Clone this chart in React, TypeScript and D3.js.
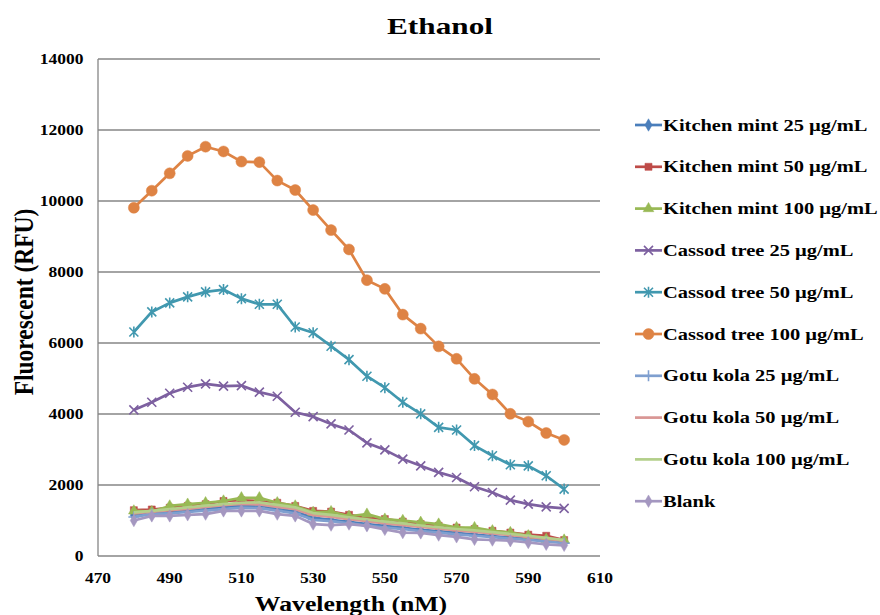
import React from 'react';
import * as d3 from 'd3';

// wavelength (nM)
const wavelengths = [480, 485, 490, 495, 500, 505, 510, 515, 520, 525, 530, 535, 540, 545, 550, 555, 560, 565, 570, 575, 580, 585, 590, 595, 600];

const kitchenMint25 = [1150, 1220, 1250, 1280, 1320, 1380, 1420, 1400, 1330, 1250, 1080, 1020, 960, 900, 850, 800, 740, 700, 650, 600, 560, 520, 480, 430, 380];
const kitchenMint50 = [1290, 1310, 1360, 1410, 1460, 1550, 1570, 1550, 1500, 1410, 1270, 1250, 1160, 1080, 1040, 970, 900, 850, 800, 760, 710, 660, 600, 570, 450];
const kitchenMint100 = [1270, 1250, 1410, 1460, 1500, 1550, 1640, 1640, 1500, 1410, 1230, 1250, 1120, 1180, 1040, 1000, 950, 900, 800, 800, 710, 660, 570, 470, 450];
const cassod25 = [4115, 4330, 4585, 4755, 4850, 4785, 4800, 4615, 4500, 4050, 3925, 3720, 3550, 3185, 2990, 2730, 2540, 2355, 2210, 1950, 1790, 1575, 1460, 1385, 1340];
const cassod50 = [6310, 6875, 7130, 7300, 7440, 7505, 7250, 7090, 7090, 6450, 6290, 5910, 5530, 5065, 4740, 4330, 4005, 3625, 3550, 3110, 2825, 2570, 2540, 2260, 1885];
const cassod100 = [9810, 10290, 10780, 11270, 11530, 11395, 11110, 11095, 10575, 10310, 9745, 9180, 8635, 7770, 7525, 6800, 6405, 5905, 5555, 4990, 4550, 4005, 3785, 3465, 3270];
const gotuKola25 = [1100, 1180, 1200, 1240, 1280, 1320, 1360, 1350, 1280, 1200, 1020, 980, 920, 860, 800, 760, 700, 660, 610, 570, 530, 490, 450, 410, 360];
const gotuKola50 = [1200, 1250, 1290, 1330, 1380, 1430, 1470, 1450, 1380, 1320, 1150, 1100, 1040, 980, 920, 870, 820, 770, 720, 680, 640, 590, 540, 490, 430];
const gotuKola100 = [1230, 1270, 1320, 1370, 1420, 1460, 1500, 1510, 1440, 1370, 1210, 1160, 1090, 1030, 970, 920, 860, 810, 760, 720, 670, 620, 570, 510, 450];
const blank = [1000, 1130, 1130, 1160, 1180, 1270, 1270, 1270, 1180, 1130, 900, 870, 900, 850, 750, 660, 650, 590, 540, 470, 450, 430, 380, 330, 300];

const seriesNames = [
  'Kitchen mint 25 µg/mL', 'Kitchen mint 50 µg/mL', 'Kitchen mint 100 µg/mL',
  'Cassod tree 25 µg/mL', 'Cassod tree 50 µg/mL', 'Cassod tree 100 µg/mL',
  'Gotu kola 25 µg/mL', 'Gotu kola 50 µg/mL', 'Gotu kola 100 µg/mL', 'Blank',
];
const seriesValues = [kitchenMint25, kitchenMint50, kitchenMint100, cassod25, cassod50, cassod100, gotuKola25, gotuKola50, gotuKola100, blank];
const seriesColors = ['#4A7EBB', '#BE4B48', '#98B954', '#7D60A0', '#4198AF', '#DE8344', '#7F9FCF', '#D99694', '#B3CF8A', '#A497C0'];
const seriesMarkers = ['diamond', 'square', 'triangle', 'x', 'star', 'circle', 'plus', 'none', 'none', 'diamond'];

const xTicks = [470, 490, 510, 530, 550, 570, 590, 610];
const yTicks = [0, 2000, 4000, 6000, 8000, 10000, 12000, 14000];

const W = 880;
const H = 615;
const M = { left: 98, right: 600, top: 59, bottom: 556 };
const FONT = '"Liberation Serif", "Times New Roman", serif';

// the picture is a bit stretched sideways, so the text is too
const Label = ({ x, y, size, sx, anchor = 'start', children }: any) => (
  <text transform={`translate(${x},${y}) scale(${sx},1)`} textAnchor={anchor} fontSize={size} fontWeight="bold">{children}</text>
);

const Marker = ({ kind, x, y, color }: { kind: string; x: number; y: number; color: string }) => {
  const t = `translate(${x},${y})`;
  if (kind === 'none') return null;
  if (kind === 'x' || kind === 'star' || kind === 'plus') {
    const s = 4.5;
    let d = '';
    if (kind !== 'plus') d += `M${-s},${-s}L${s},${s}M${-s},${s}L${s},${-s}`;
    if (kind !== 'x') d += `M0,${-s - 1}L0,${s + 1}`;
    if (kind === 'plus') d += `M${-s - 1},0L${s + 1},0`;
    return <path transform={t} d={d} stroke={color} strokeWidth={1.6} fill="none" />;
  }
  const type = kind === 'diamond' ? d3.symbolDiamond : kind === 'square' ? d3.symbolSquare : kind === 'triangle' ? d3.symbolTriangle : d3.symbolCircle;
  const size = kind === 'circle' ? 95 : kind === 'square' ? 50 : kind === 'triangle' ? 50 : 45;
  return <path transform={t} d={d3.symbol(type, size)() || ''} fill={color} stroke={color} strokeWidth={0.5} />;
};

export default function App() {
  const x = d3.scaleLinear().domain([470, 610]).range([M.left, M.right]);
  const y = d3.scaleLinear().domain([0, 14000]).range([M.bottom, M.top]);
  const line = d3.line<number>().x((_, i) => x(wavelengths[i])).y((v) => y(v));

  const legendX = 635;
  const legendY0 = 125;
  const legendStep = 41.8;

  return (
    <svg width={W} height={H} style={{ position: 'absolute', left: 0, top: 0, background: '#fff' }} fontFamily={FONT}>
      <rect width={W} height={H} fill="#fff" />
      {yTicks.map((t) => (
        <g key={t}>
          {t > 0 && <line x1={M.left} x2={M.right} y1={y(t)} y2={y(t)} stroke="#868686" strokeWidth={1.3} />}
          <Label x={83.5} y={y(t) + 4.8} size={14} sx={1.25} anchor="end">{t}</Label>
        </g>
      ))}
      <line x1={M.left} x2={M.left} y1={M.top} y2={M.bottom} stroke="#868686" strokeWidth={1.3} />
      <line x1={M.left} x2={M.right} y1={M.bottom} y2={M.bottom} stroke="#868686" strokeWidth={1.3} />
      {xTicks.map((t) => (
        <Label key={t} x={x(t)} y={582.5} size={14} sx={1.25} anchor="middle">{t}</Label>
      ))}

      {seriesValues.map((vals, si) => (
        <g key={seriesNames[si]}>
          <path d={line(vals) || ''} fill="none" stroke={seriesColors[si]} strokeWidth={2.7} strokeLinejoin="round" />
          {vals.map((v, i) => (
            <Marker key={i} kind={seriesMarkers[si]} x={x(wavelengths[i])} y={y(v)} color={seriesColors[si]} />
          ))}
        </g>
      ))}

      <Label x={440} y={33.5} size={23.5} sx={1.33} anchor="middle">Ethanol</Label>
      <text transform={`translate(33,302) rotate(-90) scale(1,1.2)`} textAnchor="middle" fontSize={23.5} fontWeight="bold">Fluorescent (RFU)</text>
      <Label x={351} y={611} size={22} sx={1.17} anchor="middle">Wavelength (nM)</Label>

      {seriesNames.map((name, i) => {
        const ly = legendY0 + i * legendStep;
        return (
          <g key={name}>
            <line x1={legendX} x2={legendX + 27} y1={ly} y2={ly} stroke={seriesColors[i]} strokeWidth={2.7} />
            <Marker kind={seriesMarkers[i]} x={legendX + 13.5} y={ly} color={seriesColors[i]} />
            <Label x={legendX + 28} y={ly + 5.5} size={17.5} sx={1.17}>{name}</Label>
          </g>
        );
      })}
    </svg>
  );
}
